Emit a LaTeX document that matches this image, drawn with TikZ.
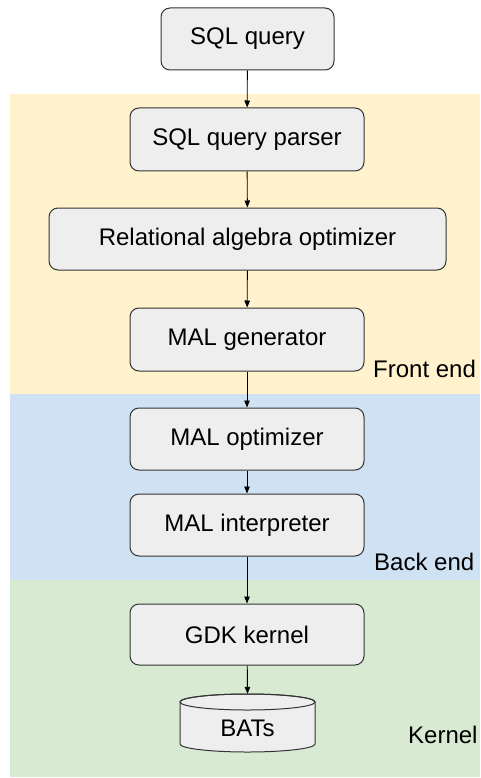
\documentclass[tikz,border=0pt]{standalone}
\usepackage{fontspec}
\setmainfont{Liberation Sans}
\usetikzlibrary{arrows.meta}
\definecolor{boxfill}{HTML}{EEEEEE}
\definecolor{boxline}{HTML}{333333}
\definecolor{frontbg}{HTML}{FFF2CC}
\definecolor{backbg}{HTML}{CFE2F3}
\definecolor{kernelbg}{HTML}{D9EAD3}
\begin{document}
\begin{tikzpicture}[x=1pt,y=1pt,
  stagebox/.style={draw=boxline, line width=1pt, fill=boxfill, rounded corners=9pt,
    minimum height=62pt, inner sep=0pt, font=\fontsize{24}{28}\selectfont, text=black},
  flow/.style={draw=black, line width=0.9pt, -{Triangle[length=7pt,width=5.5pt]}},
  layerlabel/.style={anchor=west, inner sep=0pt, font=\fontsize{24}{28}\selectfont, text=black}]
\useasboundingbox (0,0) rectangle (480,-778);
\fill[white] (0,0) rectangle (480,-778);
% layers
\fill[frontbg] (10,-94) rectangle (480,-394);
\fill[backbg] (10,-394) rectangle (480,-580);
\fill[kernelbg] (10,-580) rectangle (480,-777);
% nodes
\node[stagebox, minimum width=173pt] (sql) at (247.5,-39) {SQL query};
\node[stagebox, minimum width=234pt, minimum height=63pt] (parser) at (247,-139.5) {SQL query parser};
\node[stagebox, minimum width=397pt] (rel) at (247.5,-239) {Relational algebra optimizer};
\node[stagebox, minimum width=234pt, minimum height=63pt] (malgen) at (247,-339.5) {MAL generator};
\node[stagebox, minimum width=234pt] (malopt) at (247,-439) {MAL optimizer};
\node[stagebox, minimum width=234pt] (malint) at (247,-525) {MAL interpreter};
\node[stagebox, minimum width=234pt, minimum height=61pt] (gdk) at (247,-634.5) {GDK kernel};
% BATs cylinder
\node[minimum width=135pt, minimum height=58pt, inner sep=0pt] (bats) at (247.5,-723) {};
\filldraw[draw=boxline, line width=1pt, fill=boxfill]
  (180,-702) -- (180,-744) arc (180:360:67.5 and 8) -- (315,-702) arc (0:180:67.5 and 8) -- cycle;
\draw[boxline, line width=1pt] (247.5,-702) ellipse (67.5 and 8);
\node[font=\fontsize{24}{28}\selectfont, text=black] (batstext) at (247.5,-728) {BATs};
% labels
\node[layerlabel] (fe) at (373,-369) {Front end};
\node[layerlabel] (be) at (374,-562) {Back end};
\node[layerlabel] (ke) at (408,-735) {Kernel};
% connectors
\draw[flow] (sql) -- (parser);
\draw[flow] (parser) -- (rel);
\draw[flow] (rel) -- (malgen);
\draw[flow] (malgen) -- (malopt);
\draw[flow] (malopt) -- (malint);
\draw[flow] (malint) -- (gdk);
\draw[flow] (gdk) -- (bats.north);
\end{tikzpicture}
\end{document}
